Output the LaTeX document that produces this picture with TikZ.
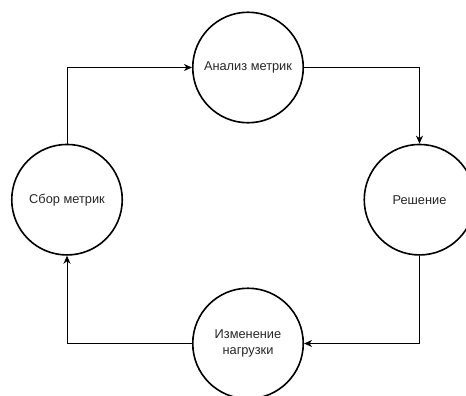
\documentclass[tikz,border=0pt]{standalone}
\usepackage{fontspec}
\setmainfont{Liberation Sans}
\usetikzlibrary{arrows.meta}
\begin{document}
\begin{tikzpicture}[x=1pt,y=-1pt,
  stage/.style={draw, circle, line width=1.6pt, minimum size=110.5pt, inner sep=0pt, align=center, font=\fontsize{12.8}{16.5}\selectfont, text=black!85},
  flow/.style={line width=0.8pt, -{Stealth[length=8pt,width=7pt,inset=2.5pt]}}]
\useasboundingbox (0,0) rectangle (466,396);
\begin{scope}
\clip (0,0) rectangle (466,396);
\node[stage] (an) at (248,67.5) {Анализ метрик};
\node[stage] (re) at (419.5,199.7) {Решение};
\node[stage] (iz) at (248,343.5) {Изменение\\нагрузки};
\node[stage] (sb) at (67,199.7) {Сбор метрик};
\draw[flow] (sb.north) |- (an.west);
\draw[flow] (an.east) -| (re.north);
\draw[flow] (re.south) |- (iz.east);
\draw[flow] (iz.west) -| (sb.south);
\end{scope}
\end{tikzpicture}
\end{document}
